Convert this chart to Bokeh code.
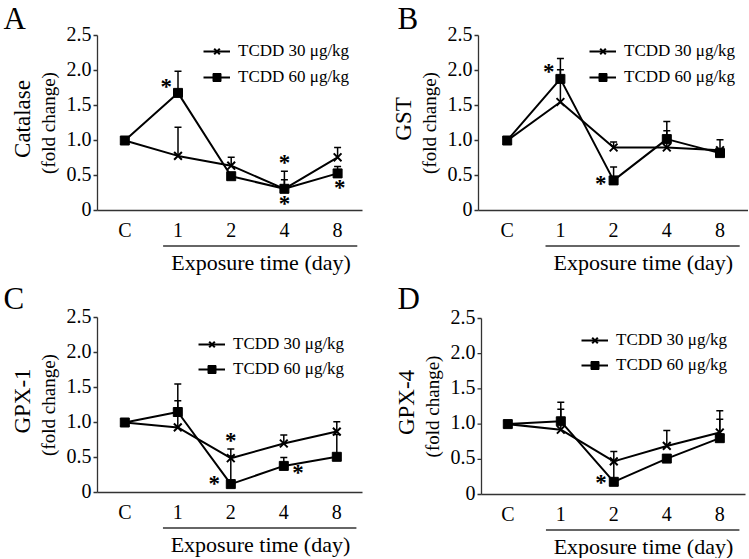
import math
from bokeh.plotting import figure
from bokeh.layouts import column, row
from bokeh.models import Range1d, ColumnDataSource, Legend, LegendItem, Whisker, TeeHead
from bokeh.core.properties import value
from bokeh.embed import file_html
from bokeh.resources import INLINE

# ---------------- data ----------------
categories = ["C", "1", "2", "4", "8"]
series_labels = ["TCDD 30 \u03bcg/kg", "TCDD 60 \u03bcg/kg"]
y_ticks = [0, 0.5, 1.0, 1.5, 2.0, 2.5]
y_tick_labels = ["0", "0.5", "1.0", "1.5", "2.0", "2.5"]
x_title = "Exposure time (day)"
y_subtitle = "(fold change)"
panel_letters = ["A", "B", "C", "D"]
enzymes = ["Catalase", "GST", "GPX-1", "GPX-4"]

catalase_30 = [1.00, 0.78, 0.64, 0.31, 0.76]
catalase_30_err = [0.03, 0.41, 0.12, 0.25, 0.14]
catalase_60 = [1.00, 1.68, 0.49, 0.31, 0.53]
catalase_60_err = [0.03, 0.31, 0.03, 0.13, 0.10]
catalase_sig_cat = ["1", "4", "4", "8"]
catalase_sig_y = [1.77, 0.69, 0.10, 0.33]

gst_30 = [1.00, 1.55, 0.90, 0.90, 0.86]
gst_30_err = [0.03, 0.46, 0.08, 0.24, 0.15]
gst_60 = [1.00, 1.88, 0.43, 1.02, 0.82]
gst_60_err = [0.03, 0.29, 0.19, 0.25, 0.04]
gst_sig_cat = ["1", "2"]
gst_sig_y = [1.98, 0.39]

gpx1_30 = [1.00, 0.93, 0.49, 0.70, 0.87]
gpx1_30_err = [0.03, 0.38, 0.13, 0.12, 0.14]
gpx1_60 = [1.00, 1.15, 0.12, 0.38, 0.51]
gpx1_60_err = [0.03, 0.40, 0.40, 0.12, 0.32]
gpx1_sig_cat = ["2", "2", "4"]
gpx1_sig_y = [0.75, 0.13, 0.28]

gpx4_30 = [1.00, 0.92, 0.47, 0.69, 0.88]
gpx4_30_err = [0.03, 0.29, 0.14, 0.22, 0.31]
gpx4_60 = [1.00, 1.04, 0.18, 0.51, 0.80]
gpx4_60_err = [0.03, 0.27, 0.30, 0.03, 0.27]
gpx4_sig_cat = ["2"]
gpx4_sig_y = [0.17]

# ---------------- layout / style ----------------
FONT = "Liberation Serif"
AXIS_COLOR = "#333333"

panels = [
    dict(s30=catalase_30, e30=catalase_30_err, s60=catalase_60, e60=catalase_60_err,
         sig_cat=catalase_sig_cat, sig_y=catalase_sig_y, sig_shift=[-0.22, 0, 0, 0.04],
         box=(0, 0, 374, 279), xC=124.3, dx=53.2, y0=210, py=70, axis_px=97, axis_end=362,
         leg_left=203, leg_row1=50.7, leg_spacing=6, letter_px=(3, 17.5)),
    dict(s30=gst_30, e30=gst_30_err, s60=gst_60, e60=gst_60_err,
         sig_cat=gst_sig_cat, sig_y=gst_sig_y, sig_shift=[-0.22, -0.24],
         box=(374, 0, 374, 279), xC=506.7, dx=53.2, y0=210, py=70, axis_px=478, axis_end=748,
         leg_left=589, leg_row1=50.7, leg_spacing=6, letter_px=(397, 17.5)),
    dict(s30=gpx1_30, e30=gpx1_30_err, s60=gpx1_60, e60=gpx1_60_err,
         sig_cat=gpx1_sig_cat, sig_y=gpx1_sig_y, sig_shift=[0, -0.31, 0.27],
         box=(0, 279, 374, 279), xC=124.3, dx=53.0, y0=492, py=70, axis_px=97, axis_end=362,
         leg_left=198, leg_row1=343.7, leg_spacing=5, letter_px=(3, 298)),
    dict(s30=gpx4_30, e30=gpx4_30_err, s60=gpx4_60, e60=gpx4_60_err,
         sig_cat=gpx4_sig_cat, sig_y=gpx4_sig_y, sig_shift=[-0.24],
         box=(374, 279, 374, 279), xC=507.3, dx=53.0, y0=494, py=70.4, axis_px=481, axis_end=745,
         leg_left=581, leg_row1=340.3, leg_spacing=5, letter_px=(397, 298)),
]

TICK_DY = 19.5      # px below zero line: centre of category labels
UNDERLINE_DY = 35.5 # px below zero line: bracket line
TITLE_DY = 52.0     # px below zero line: centre of x title


def make_panel(letter, enzyme, cfg):
    bx, by, w, h = cfg["box"]
    xC, dx, y0, py = cfg["xC"], cfg["dx"], cfg["y0"], cfg["py"]
    X = lambda px: (px - xC) / dx
    Y = lambda p_: (y0 - p_) / py

    p = figure(width=w, height=h, x_range=Range1d(X(bx), X(bx + w)),
               y_range=Range1d(Y(by + h), Y(by)), output_backend="svg",
               toolbar_location=None, x_axis_location=None, y_axis_location=None,
               min_border=0)
    p.grid.visible = False
    p.outline_line_color = None
    p.background_fill_color = "white"
    p.border_fill_color = "white"

    xs = [categories.index(c) for c in categories]
    ax = X(cfg["axis_px"])

    # axes
    p.segment(x0=[ax], y0=[0], x1=[X(cfg["axis_end"])], y1=[0], line_color=AXIS_COLOR, line_width=1.3)
    p.segment(x0=[ax], y0=[y_ticks[0]], x1=[ax], y1=[y_ticks[-1]], line_color=AXIS_COLOR, line_width=1.3)
    p.segment(x0=[ax - 4 / dx] * len(y_ticks), y0=y_ticks, x1=[ax] * len(y_ticks), y1=y_ticks,
              line_color=AXIS_COLOR, line_width=1.3)
    p.text(x=[ax] * len(y_ticks), y=y_ticks, text=y_tick_labels, x_offset=-6, y_offset=-2,
           text_align="right", text_baseline="middle", text_font=value(FONT),
           text_font_size="20px", text_color="black")
    p.text(x=xs, y=[Y(y0 + TICK_DY)] * len(xs), text=categories, text_align="center",
           text_baseline="middle", text_font=value(FONT), text_font_size="20px",
           text_color="black")
    uy = Y(y0 + UNDERLINE_DY)
    p.segment(x0=[0.72], y0=[uy], x1=[4.37], y1=[uy], line_color=AXIS_COLOR, line_width=1.3)
    p.text(x=[2.56], y=[Y(y0 + TITLE_DY)], text=[x_title], text_align="center", text_baseline="middle",
           text_font=value(FONT), text_font_size="22px", text_color="black")

    # y labels
    p.text(x=[ax], y=[1.25], text=[enzyme], x_offset=-75, y_offset=-4, angle=math.pi / 2,
           text_align="center", text_baseline="middle", text_font=value(FONT),
           text_font_size="23px", text_color="black")
    p.text(x=[ax], y=[1.25], text=[y_subtitle], x_offset=-49, angle=math.pi / 2,
           text_align="center", text_baseline="middle", text_font=value(FONT),
           text_font_size="19px", text_color="black")

    # panel letter
    lx, ly = cfg["letter_px"]
    p.text(x=[X(lx)], y=[Y(ly)], text=[letter], text_align="left", text_baseline="middle",
           text_font=value(FONT), text_font_size="31px", text_color="black")

    # series
    src30 = ColumnDataSource(dict(x=xs, y=cfg["s30"], up=[v + e for v, e in zip(cfg["s30"], cfg["e30"])]))
    src60 = ColumnDataSource(dict(x=xs, y=cfg["s60"], up=[v + e for v, e in zip(cfg["s60"], cfg["e60"])]))

    for src in (src30, src60):
        wk = Whisker(source=src, base="x", lower="y", upper="up", dimension="height",
                     line_color="black", line_width=1.5, lower_head=None,
                     upper_head=TeeHead(size=7, line_color="black", line_width=1.5), level="glyph")
        p.add_layout(wk)

    l30 = p.line(x="x", y="y", source=src30, line_color="black", line_width=2)
    m30 = p.scatter(x="x", y="y", source=src30, marker="x", size=11, line_color="black", line_width=2)
    l60 = p.line(x="x", y="y", source=src60, line_color="black", line_width=2)
    m60 = p.scatter(x="x", y="y", source=src60, marker="square", size=9, fill_color="black",
                    line_color="black")

    # significance asterisks
    sx = [categories.index(c) + s for c, s in zip(cfg["sig_cat"], cfg["sig_shift"])]
    p.text(x=sx, y=cfg["sig_y"], text=["*"] * len(sx), text_align="center",
           text_baseline="middle", text_font=value(FONT), text_font_style="bold",
           text_font_size="23px", text_color="black")

    # legend
    sp = cfg["leg_spacing"]
    top = cfg["leg_row1"] - 10
    bottom = top + 40 + sp
    leg = Legend(items=[LegendItem(label=series_labels[0], renderers=[l30, m30]),
                        LegendItem(label=series_labels[1], renderers=[l60, m60])],
                 location=(cfg["leg_left"] - bx, (by + h) - bottom),
                 padding=0, margin=0, spacing=sp, glyph_width=27, glyph_height=20,
                 label_height=20, label_standoff=8, label_text_font=FONT,
                 label_text_font_size="17px", label_text_color="black",
                 border_line_color=None, background_fill_alpha=0)
    p.add_layout(leg)
    return p


figs = [make_panel(l, e, c) for l, e, c in zip(panel_letters, enzymes, panels)]
layout = column(row(figs[0], figs[1]), row(figs[2], figs[3]))

with open("out.html", "w") as f:
    f.write(file_html(layout, INLINE))
